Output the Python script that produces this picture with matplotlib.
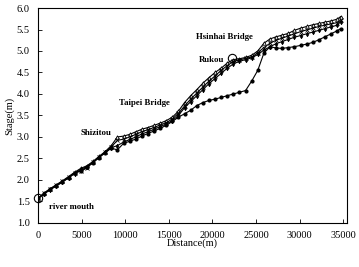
import matplotlib
matplotlib.use("Agg")
import matplotlib.pyplot as plt

plt.rcParams['font.family'] = ['Liberation Serif', 'DejaVu Serif']

distance = [0, 700, 1400, 2100, 2800, 3500, 4200, 4900, 5600, 6300, 7000, 7700, 8400,
            9100, 9800, 10500, 11200, 11900, 12600, 13300, 14000, 14700, 15400, 16100,
            16800, 17500, 18200, 18900, 19600, 20300, 21000, 21700, 22400, 23100, 23800,
            24500, 25200, 25900, 26600, 27300, 28000, 28700, 29400, 30100, 30800, 31500,
            32200, 32900, 33600, 34300, 34700]

stage_a = [1.57, 1.68, 1.78, 1.86, 1.95, 2.05, 2.16, 2.22, 2.30, 2.40, 2.52, 2.63, 2.74,
           2.70, 2.85, 2.90, 2.95, 3.02, 3.08, 3.14, 3.20, 3.27, 3.36, 3.46, 3.54, 3.62,
           3.73, 3.80, 3.85, 3.88, 3.92, 3.96, 4.00, 4.04, 4.08, 4.30, 4.55, 4.95, 5.10,
           5.07, 5.06, 5.08, 5.10, 5.13, 5.16, 5.20, 5.26, 5.33, 5.40, 5.47, 5.52]

stage_b = [1.57, 1.70, 1.80, 1.89, 1.98, 2.08, 2.18, 2.27, 2.33, 2.43, 2.55, 2.66, 2.80,
           3.00, 3.02, 3.06, 3.12, 3.18, 3.22, 3.27, 3.32, 3.38, 3.46, 3.60, 3.80, 3.96,
           4.10, 4.25, 4.38, 4.50, 4.60, 4.72, 4.80, 4.82, 4.85, 4.90, 5.00, 5.18, 5.28,
           5.33, 5.37, 5.41, 5.48, 5.53, 5.57, 5.61, 5.64, 5.67, 5.70, 5.74, 5.80]

stage_c = [1.57, 1.69, 1.79, 1.88, 1.97, 2.06, 2.17, 2.20, 2.28, 2.41, 2.53, 2.65, 2.77,
           2.92, 2.95, 3.00, 3.06, 3.12, 3.17, 3.22, 3.28, 3.33, 3.42, 3.55, 3.72, 3.88,
           4.02, 4.16, 4.30, 4.42, 4.55, 4.66, 4.76, 4.79, 4.83, 4.86, 4.96, 5.08, 5.18,
           5.25, 5.30, 5.35, 5.40, 5.45, 5.49, 5.53, 5.57, 5.60, 5.63, 5.66, 5.72]

stage_d = [1.57, 1.68, 1.77, 1.87, 1.96, 2.05, 2.15, 2.25, 2.31, 2.42, 2.54, 2.64, 2.75,
           2.80, 2.88, 2.94, 3.00, 3.07, 3.12, 3.18, 3.24, 3.30, 3.38, 3.50, 3.68, 3.82,
           3.96, 4.10, 4.24, 4.36, 4.48, 4.60, 4.70, 4.76, 4.80, 4.84, 4.92, 5.02, 5.10,
           5.17, 5.22, 5.27, 5.32, 5.36, 5.40, 5.44, 5.48, 5.52, 5.56, 5.60, 5.68]

site_names = ["river mouth", "Shizitou", "Taipei Bridge", "Rukou", "Hsinhai Bridge"]
site_label_x = [1200, 4900, 9300, 18400, 18100]
site_label_y = [1.38, 3.10, 3.78, 4.79, 5.32]
circle_x = [0, 22200]
circle_y = [1.57, 4.83]

fig = plt.figure(figsize=(3.59, 2.67), dpi=100)
ax = fig.add_axes([0.106, 0.165, 0.861, 0.805])

lw = 0.8
ax.plot(distance, stage_a, '-', color='black', lw=lw, marker='o', ms=2.0, mfc='black', mec='black')
ax.plot(distance, stage_b, '-', color='black', lw=lw, marker='^', ms=2.5, mfc='white', mec='black', mew=0.6)
ax.plot(distance, stage_c, '-', color='black', lw=lw, marker='x', ms=2.5, mec='black', mew=0.6)
ax.plot(distance, stage_d, '-', color='black', lw=lw, marker='d', ms=2.3, mfc='black', mec='black', mew=0.5)

ax.plot(circle_x, circle_y, 'o', ms=6, mfc='none', mec='black', mew=0.8, clip_on=False, zorder=5)

for name, tx, ty in zip(site_names, site_label_x, site_label_y):
    ax.text(tx, ty, name, fontsize=6.3, fontweight='bold', ha='left', va='center')

ax.set_xlim(0, 35450)
ax.set_ylim(1.0, 6.0)
ax.set_xticks([0, 5000, 10000, 15000, 20000, 25000, 30000, 35000])
ax.set_yticks([1.0, 1.5, 2.0, 2.5, 3.0, 3.5, 4.0, 4.5, 5.0, 5.5, 6.0])
ax.set_yticklabels(['1.0', '1.5', '2.0', '2.5', '3.0', '3.5', '4.0', '4.5', '5.0', '5.5', '6.0'])
ax.tick_params(direction='in', length=3, width=0.6, labelsize=7.5, pad=6)
for s in ax.spines.values():
    s.set_linewidth(0.8)

ax.set_xlabel('Distance(m)', fontsize=7.5, labelpad=-1)
ax.set_ylabel('Stage(m)', fontsize=7.5, labelpad=2)

fig.savefig('out.png', dpi=100)
